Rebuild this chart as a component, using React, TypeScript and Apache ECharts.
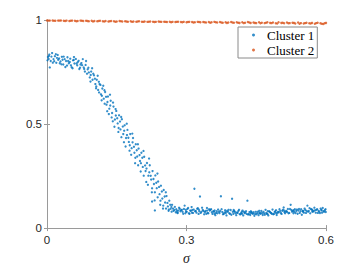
import React, { useEffect, useRef } from "react";
import * as echarts from "echarts";

const xTicks = [0, 0.3, 0.6];
const yTicks = [0, 0.5, 1];
const seriesNames = ["Cluster 1", "Cluster 2"];
const xLabel = "σ";

// Cluster 1: [sigma, value]
const cluster1: number[][] = [
  [0.002, 0.822], [0.005, 0.834], [0.008, 0.803], [0.011, 0.841], [0.014, 0.812], [0.017, 0.826], [0.020, 0.794], [0.023, 0.832],
  [0.026, 0.815], [0.029, 0.801], [0.032, 0.823], [0.035, 0.786], [0.038, 0.812], [0.041, 0.803], [0.044, 0.821], [0.047, 0.792],
  [0.050, 0.814], [0.053, 0.773], [0.056, 0.806], [0.059, 0.791], [0.062, 0.813], [0.065, 0.782], [0.068, 0.804], [0.071, 0.771],
  [0.074, 0.793], [0.077, 0.812], [0.080, 0.764], [0.083, 0.784], [0.086, 0.742], [0.089, 0.771], [0.092, 0.724], [0.095, 0.752],
  [0.098, 0.713], [0.101, 0.734], [0.104, 0.692], [0.107, 0.713], [0.110, 0.664], [0.113, 0.692], [0.116, 0.643], [0.119, 0.671],
  [0.122, 0.622], [0.125, 0.654], [0.128, 0.593], [0.131, 0.632], [0.134, 0.574], [0.137, 0.612], [0.140, 0.553], [0.143, 0.584],
  [0.146, 0.522], [0.149, 0.563], [0.152, 0.503], [0.155, 0.542], [0.158, 0.474], [0.161, 0.523], [0.164, 0.452], [0.167, 0.494],
  [0.170, 0.433], [0.173, 0.472], [0.176, 0.414], [0.179, 0.452], [0.182, 0.384], [0.185, 0.433], [0.188, 0.362], [0.191, 0.403],
  [0.194, 0.344], [0.197, 0.382], [0.200, 0.323], [0.203, 0.362], [0.206, 0.294], [0.209, 0.343], [0.212, 0.274], [0.215, 0.313],
  [0.218, 0.252], [0.221, 0.302], [0.224, 0.233], [0.227, 0.274], [0.230, 0.212], [0.233, 0.253], [0.236, 0.192], [0.239, 0.224],
  [0.242, 0.163], [0.245, 0.204], [0.248, 0.142], [0.251, 0.183], [0.254, 0.123], [0.257, 0.154], [0.260, 0.104], [0.263, 0.132],
  [0.266, 0.093], [0.269, 0.112], [0.272, 0.083], [0.275, 0.102],
  [0.0035, 0.813], [0.0095, 0.824], [0.0155, 0.802], [0.0215, 0.818], [0.0275, 0.792], [0.0335, 0.809], [0.0395, 0.774], [0.0455, 0.803],
  [0.0515, 0.782], [0.0575, 0.808], [0.0635, 0.791], [0.0695, 0.764], [0.0755, 0.783], [0.0815, 0.752], [0.0875, 0.763], [0.0935, 0.704],
  [0.0995, 0.742], [0.1055, 0.672], [0.1115, 0.703], [0.1175, 0.614], [0.1235, 0.663], [0.1295, 0.562], [0.1355, 0.641], [0.1415, 0.513],
  [0.1475, 0.572], [0.1535, 0.462], [0.1595, 0.534], [0.1655, 0.413], [0.1715, 0.502], [0.1775, 0.372], [0.1835, 0.454], [0.1895, 0.312],
  [0.1955, 0.403], [0.2015, 0.272], [0.2075, 0.371], [0.2135, 0.222], [0.2195, 0.334], [0.2255, 0.172], [0.2315, 0.133], [0.2375, 0.262],
  [0.2435, 0.112], [0.2495, 0.094], [0.2555, 0.172], [0.2615, 0.083], [0.2675, 0.102], [0.0060, 0.772], [0.2320, 0.085], [0.2260, 0.128],
  [0.001, 0.806], [0.004, 0.827], [0.0125, 0.795], [0.019, 0.836], [0.024, 0.809], [0.031, 0.787], [0.036, 0.824], [0.043, 0.781],
  [0.049, 0.798], [0.055, 0.768], [0.058, 0.822], [0.066, 0.797], [0.072, 0.786], [0.079, 0.772], [0.084, 0.803], [0.090, 0.748],
  [0.094, 0.736], [0.097, 0.768], [0.103, 0.718], [0.106, 0.681], [0.109, 0.732], [0.112, 0.652], [0.115, 0.688], [0.118, 0.636],
  [0.121, 0.684], [0.124, 0.598], [0.127, 0.631], [0.130, 0.606], [0.133, 0.548], [0.136, 0.589], [0.139, 0.532], [0.142, 0.603],
  [0.145, 0.487], [0.148, 0.541], [0.151, 0.528], [0.154, 0.481], [0.157, 0.512], [0.160, 0.437], [0.163, 0.488], [0.166, 0.468],
  [0.169, 0.392], [0.172, 0.447], [0.175, 0.434], [0.178, 0.398], [0.181, 0.352], [0.184, 0.412], [0.187, 0.391], [0.190, 0.338],
  [0.193, 0.374], [0.196, 0.302], [0.199, 0.351], [0.202, 0.312], [0.205, 0.338], [0.208, 0.252], [0.211, 0.301], [0.214, 0.286],
  [0.217, 0.208], [0.220, 0.268], [0.223, 0.251], [0.226, 0.191], [0.229, 0.236], [0.232, 0.172], [0.235, 0.218], [0.238, 0.148],
  [0.241, 0.198], [0.244, 0.132], [0.247, 0.176], [0.250, 0.108], [0.253, 0.152], [0.256, 0.094], [0.259, 0.121], [0.262, 0.089],
  [0.265, 0.112], [0.268, 0.079], [0.271, 0.094], [0.274, 0.087], [0.277, 0.076],
  [0.278, 0.091], [0.281, 0.072], [0.284, 0.098], [0.287, 0.081], [0.290, 0.088], [0.293, 0.069], [0.296, 0.108], [0.299, 0.079],
  [0.302, 0.092], [0.305, 0.071], [0.308, 0.084], [0.311, 0.101], [0.314, 0.073], [0.317, 0.189], [0.320, 0.082], [0.323, 0.093],
  [0.326, 0.068], [0.329, 0.152], [0.332, 0.078], [0.335, 0.087], [0.338, 0.066], [0.341, 0.082], [0.344, 0.097], [0.347, 0.071],
  [0.350, 0.084], [0.353, 0.091], [0.356, 0.068], [0.359, 0.079], [0.362, 0.062], [0.365, 0.081], [0.368, 0.089], [0.371, 0.072],
  [0.374, 0.153], [0.377, 0.077], [0.380, 0.068], [0.383, 0.086], [0.386, 0.061], [0.389, 0.078], [0.392, 0.071], [0.395, 0.087],
  [0.398, 0.141], [0.401, 0.069], [0.404, 0.078], [0.407, 0.062], [0.410, 0.073], [0.413, 0.088], [0.416, 0.066], [0.419, 0.079],
  [0.422, 0.061], [0.425, 0.072], [0.428, 0.081], [0.431, 0.132], [0.434, 0.068], [0.437, 0.063], [0.440, 0.077], [0.443, 0.069],
  [0.446, 0.059], [0.449, 0.078], [0.452, 0.071], [0.455, 0.062], [0.458, 0.073], [0.461, 0.082], [0.464, 0.063], [0.467, 0.071],
  [0.470, 0.088], [0.473, 0.069], [0.476, 0.061], [0.479, 0.079], [0.482, 0.072], [0.485, 0.089], [0.488, 0.068], [0.491, 0.081],
  [0.494, 0.063], [0.497, 0.078], [0.500, 0.091], [0.503, 0.072], [0.506, 0.083], [0.509, 0.099], [0.512, 0.071], [0.515, 0.082],
  [0.518, 0.092], [0.521, 0.073], [0.524, 0.112], [0.527, 0.079], [0.530, 0.071], [0.533, 0.091], [0.536, 0.082], [0.539, 0.069],
  [0.542, 0.092], [0.545, 0.081], [0.548, 0.064], [0.551, 0.083], [0.554, 0.094], [0.557, 0.073], [0.560, 0.108], [0.563, 0.082],
  [0.566, 0.071], [0.569, 0.089], [0.572, 0.081], [0.575, 0.098], [0.578, 0.074], [0.581, 0.091], [0.584, 0.083], [0.587, 0.072],
  [0.590, 0.088], [0.593, 0.097], [0.596, 0.079], [0.599, 0.091],
  [0.2795, 0.082], [0.2855, 0.093], [0.2915, 0.078], [0.2975, 0.071], [0.3035, 0.097], [0.3095, 0.083], [0.3155, 0.089], [0.3215, 0.074],
  [0.3275, 0.081], [0.3335, 0.098], [0.3395, 0.077], [0.3455, 0.072], [0.3515, 0.088], [0.3575, 0.081], [0.3635, 0.073], [0.3695, 0.079],
  [0.3755, 0.091], [0.3815, 0.074], [0.3875, 0.083], [0.3935, 0.069], [0.3995, 0.078], [0.4055, 0.071], [0.4115, 0.082], [0.4175, 0.073],
  [0.4235, 0.079], [0.4295, 0.068], [0.4355, 0.077], [0.4415, 0.071], [0.4475, 0.068], [0.4535, 0.079], [0.4595, 0.069], [0.4655, 0.078],
  [0.4715, 0.072], [0.4775, 0.081], [0.4835, 0.069], [0.4895, 0.077], [0.4955, 0.073], [0.5015, 0.082], [0.5075, 0.088], [0.5135, 0.079],
  [0.5195, 0.071], [0.5255, 0.087], [0.5315, 0.078], [0.5375, 0.089], [0.5435, 0.073], [0.5495, 0.082], [0.5555, 0.087], [0.5615, 0.079],
  [0.5675, 0.092], [0.5735, 0.081], [0.5795, 0.088], [0.5855, 0.079], [0.5915, 0.074], [0.5975, 0.086],
  [0.2805, 0.074], [0.2885, 0.086], [0.2945, 0.092], [0.3005, 0.078], [0.3065, 0.069], [0.3125, 0.087], [0.3185, 0.081], [0.3245, 0.096],
  [0.3305, 0.073], [0.3365, 0.082], [0.3425, 0.069], [0.3485, 0.091], [0.3545, 0.076], [0.3605, 0.085], [0.3665, 0.071], [0.3725, 0.082],
  [0.3785, 0.066], [0.3845, 0.079], [0.3905, 0.088], [0.3965, 0.064], [0.4025, 0.082], [0.4085, 0.075], [0.4145, 0.067], [0.4205, 0.084],
  [0.4265, 0.074], [0.4325, 0.065], [0.4385, 0.081], [0.4445, 0.076], [0.4505, 0.066], [0.4565, 0.083], [0.4625, 0.072], [0.4685, 0.064],
  [0.4745, 0.081], [0.4805, 0.075], [0.4865, 0.066], [0.4925, 0.086], [0.4985, 0.076], [0.5045, 0.068], [0.5105, 0.084], [0.5165, 0.077],
  [0.5225, 0.092], [0.5285, 0.083], [0.5345, 0.072], [0.5405, 0.084], [0.5465, 0.091], [0.5525, 0.074], [0.5585, 0.082], [0.5645, 0.096],
  [0.5705, 0.078], [0.5765, 0.086], [0.5825, 0.073], [0.5885, 0.094], [0.5945, 0.081], [0.5995, 0.077],
  [0.2825, 0.084], [0.2985, 0.088], [0.3115, 0.074], [0.3265, 0.089], [0.3445, 0.084], [0.3605, 0.069], [0.3845, 0.072], [0.4015, 0.087],
  [0.4195, 0.069], [0.4385, 0.072], [0.4565, 0.071], [0.4745, 0.067], [0.4925, 0.072], [0.5105, 0.077], [0.5305, 0.086], [0.5505, 0.079],
  [0.5705, 0.088], [0.5905, 0.085],
];

// Cluster 2: [sigma, value]
const cluster2: number[][] = [
  [0.000, 0.998], [0.006, 0.997], [0.012, 0.998], [0.018, 0.996], [0.024, 0.997], [0.030, 0.998], [0.036, 0.996], [0.042, 0.997],
  [0.048, 0.995], [0.054, 0.997], [0.060, 0.996], [0.066, 0.995], [0.072, 0.997], [0.078, 0.995], [0.084, 0.996], [0.090, 0.994],
  [0.096, 0.996], [0.102, 0.995], [0.108, 0.994], [0.114, 0.996], [0.120, 0.994], [0.126, 0.995], [0.132, 0.993], [0.138, 0.995],
  [0.144, 0.994], [0.150, 0.993], [0.156, 0.995], [0.162, 0.993], [0.168, 0.994], [0.174, 0.992], [0.180, 0.994], [0.186, 0.993],
  [0.192, 0.992], [0.198, 0.994], [0.204, 0.992], [0.210, 0.993], [0.216, 0.991], [0.222, 0.993], [0.228, 0.992], [0.234, 0.991],
  [0.240, 0.993], [0.246, 0.991], [0.252, 0.992], [0.258, 0.990], [0.264, 0.992], [0.270, 0.991], [0.276, 0.990], [0.282, 0.992],
  [0.288, 0.990], [0.294, 0.991], [0.300, 0.989], [0.306, 0.991], [0.312, 0.990], [0.318, 0.989], [0.324, 0.991], [0.330, 0.989],
  [0.336, 0.990], [0.342, 0.988], [0.348, 0.990], [0.354, 0.989], [0.360, 0.991], [0.366, 0.988], [0.372, 0.990], [0.378, 0.987],
  [0.384, 0.989], [0.390, 0.988], [0.396, 0.990], [0.402, 0.987], [0.408, 0.989], [0.414, 0.986], [0.420, 0.989], [0.426, 0.987],
  [0.432, 0.990], [0.438, 0.986], [0.444, 0.988], [0.450, 0.985], [0.456, 0.989], [0.462, 0.987], [0.468, 0.985], [0.474, 0.989],
  [0.480, 0.986], [0.486, 0.988], [0.492, 0.984], [0.498, 0.989], [0.504, 0.986], [0.510, 0.984], [0.516, 0.988], [0.522, 0.985],
  [0.528, 0.987], [0.534, 0.983], [0.540, 0.988], [0.546, 0.985], [0.552, 0.983], [0.558, 0.987], [0.564, 0.984], [0.570, 0.986],
  [0.576, 0.982], [0.582, 0.987], [0.588, 0.984], [0.594, 0.981], [0.600, 0.986],
  [0.003, 0.997], [0.015, 0.996], [0.027, 0.997], [0.039, 0.995], [0.051, 0.996], [0.063, 0.994], [0.075, 0.996], [0.087, 0.995],
  [0.099, 0.993], [0.111, 0.995], [0.123, 0.993], [0.135, 0.994], [0.147, 0.992], [0.159, 0.994], [0.171, 0.993], [0.183, 0.991],
  [0.195, 0.993], [0.207, 0.991], [0.219, 0.992], [0.231, 0.990], [0.243, 0.992], [0.255, 0.991], [0.267, 0.989], [0.279, 0.991],
  [0.291, 0.989], [0.303, 0.990], [0.315, 0.988], [0.327, 0.990], [0.339, 0.989], [0.351, 0.987], [0.363, 0.989], [0.375, 0.988],
  [0.387, 0.986], [0.399, 0.988], [0.411, 0.987], [0.423, 0.985], [0.435, 0.988], [0.447, 0.986], [0.459, 0.984], [0.471, 0.987],
  [0.483, 0.985], [0.495, 0.983], [0.507, 0.987], [0.519, 0.984], [0.531, 0.986], [0.543, 0.982], [0.555, 0.985], [0.567, 0.983],
  [0.579, 0.985], [0.591, 0.982], [0.597, 0.984],
];

const BLUE = "#0072BD";
const ORANGE = "#D95319";
const AXIS = "#9a9a9a";
const TEXT = "#262626";

export default function App() {
  const ref = useRef<HTMLDivElement>(null);
  useEffect(() => {
    if (!ref.current) return;
    const chart = echarts.init(ref.current, undefined, { renderer: "svg" });
    const axisCommon = {
      min: xTicks[0],
      max: xTicks[xTicks.length - 1],
      interval: xTicks[1] - xTicks[0],
    };
    const yCommon = {
      min: yTicks[0],
      max: yTicks[yTicks.length - 1],
      interval: yTicks[1] - yTicks[0],
    };
    chart.setOption({
      animation: false,
      backgroundColor: "#ffffff",
      grid: { left: 47, right: 34, top: 20, bottom: 38 },
      legend: {
        data: seriesNames,
        orient: "vertical",
        left: 238,
        top: 27,
        icon: "circle",
        itemWidth: 3,
        itemHeight: 3,
        itemGap: 1,
        padding: [1, 3, 1, 14],
        borderColor: "#8a8a8a",
        borderWidth: 1,
        backgroundColor: "#ffffff",
        textStyle: {
          fontFamily: "Liberation Serif",
          fontSize: 13,
          lineHeight: 14,
          color: "#000000",
          padding: [0, 0, 0, 7],
        },
      },
      xAxis: [
        {
          type: "value",
          ...axisCommon,
          position: "bottom",
          name: xLabel,
          nameLocation: "middle",
          nameGap: 22,
          nameTextStyle: {
            fontFamily: "Liberation Serif",
            fontStyle: "italic",
            fontSize: 14,
            color: TEXT,
          },
          axisLine: { show: true, lineStyle: { color: AXIS, width: 1 } },
          axisTick: { show: true, inside: true, length: 3, lineStyle: { color: AXIS } },
          axisLabel: {
            margin: 6,
            fontFamily: "Liberation Sans",
            fontSize: 11.5,
            color: TEXT,
          },
          splitLine: { show: false },
        },
        {
          type: "value",
          ...axisCommon,
          position: "top",
          axisLine: { show: true, lineStyle: { color: AXIS, width: 1 } },
          axisTick: { show: true, inside: true, length: 3, lineStyle: { color: AXIS } },
          axisLabel: { show: false },
          splitLine: { show: false },
        },
      ],
      yAxis: [
        {
          type: "value",
          ...yCommon,
          position: "left",
          axisLine: { show: true, lineStyle: { color: AXIS, width: 1 } },
          axisTick: { show: true, inside: true, length: 3, lineStyle: { color: AXIS } },
          axisLabel: {
            margin: 5,
            fontFamily: "Liberation Sans",
            fontSize: 11.5,
            color: TEXT,
          },
          splitLine: { show: false },
        },
        {
          type: "value",
          ...yCommon,
          position: "right",
          axisLine: { show: true, lineStyle: { color: AXIS, width: 1 } },
          axisTick: { show: true, inside: true, length: 3, lineStyle: { color: AXIS } },
          axisLabel: { show: false },
          splitLine: { show: false },
        },
      ],
      series: [
        {
          name: seriesNames[0],
          type: "scatter",
          xAxisIndex: 0,
          yAxisIndex: 0,
          data: cluster1,
          symbol: "circle",
          symbolSize: 2.3,
          itemStyle: { color: BLUE },
        },
        {
          name: seriesNames[1],
          type: "scatter",
          xAxisIndex: 0,
          yAxisIndex: 0,
          data: cluster2,
          symbol: "circle",
          symbolSize: 2.4,
          itemStyle: { color: ORANGE },
        },
      ],
    });
    return () => chart.dispose();
  }, []);
  return <div ref={ref} style={{ width: 360, height: 270, position: "absolute", left: 0, top: 0 }} />;
}
